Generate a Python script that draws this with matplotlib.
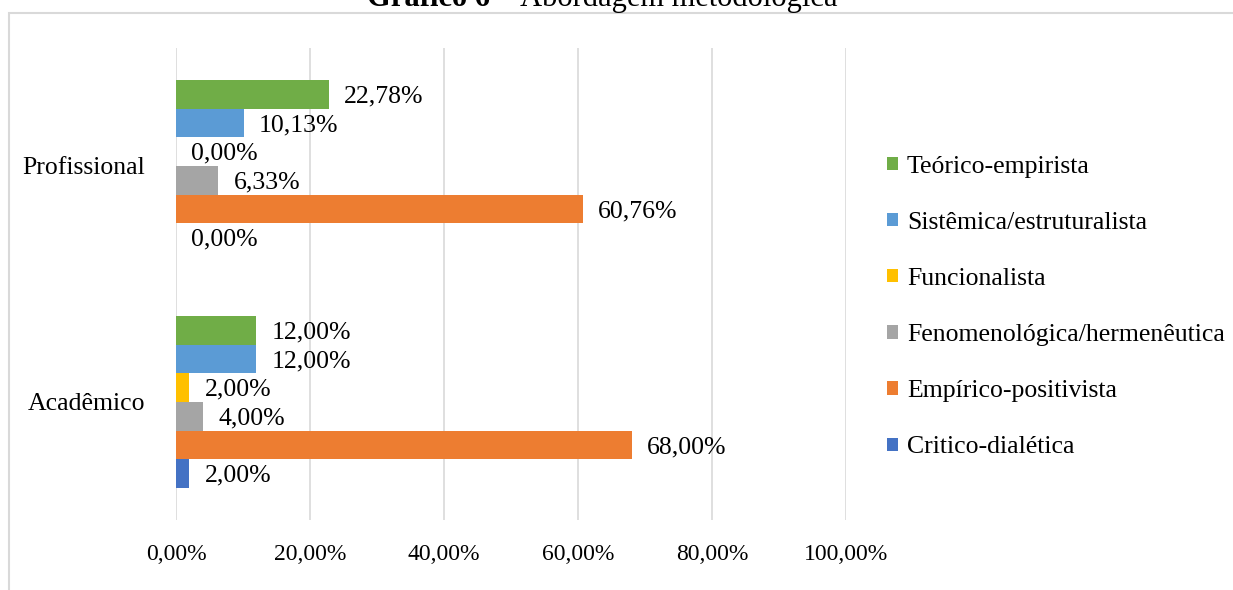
import matplotlib
matplotlib.use("Agg")
import matplotlib.pyplot as plt
from matplotlib.patches import Rectangle
import numpy as np

plt.rcParams['font.family'] = ['Liberation Serif', 'DejaVu Serif']

categories = ['Acadêmico', 'Profissional']
series = ['Critico-dialética', 'Empírico-positivista', 'Fenomenológica/hermenêutica',
          'Funcionalista', 'Sistêmica/estruturalista', 'Teórico-empirista']
colors = ['#4472C4', '#ED7D31', '#A5A5A5', '#FFC000', '#5B9BD5', '#70AD47']
academico = [2.00, 68.00, 4.00, 2.00, 12.00, 12.00]
profissional = [0.00, 60.76, 6.33, 0.00, 10.13, 22.78]
xticks = [0, 20, 40, 60, 80, 100]

W, H = 1233, 590
fig = plt.figure(figsize=(W / 100, H / 100), dpi=100)
ax = fig.add_axes([176 / W, 1 - 520 / H, (846 - 176) / W, (520 - 48) / H])

h = 0.1216
ypos = np.arange(len(categories))
values = np.array([academico, profissional])
handles = []
for i, name in enumerate(series):
    y = ypos + (i - 2.5) * h
    b = ax.barh(y, values[:, i], height=h, color=colors[i], label=name, zorder=2)
    handles.append(b)
    for yy, v in zip(y, values[:, i]):
        ax.annotate(f"{v:.2f}%".replace('.', ','), (v, yy), xytext=(11, -1.5),
                    textcoords='offset points', va='center', ha='left', fontsize=18.5)

ax.set_xlim(0, 100)
ax.set_ylim(-0.5, 1.5)
ax.set_xticks(xticks)
ax.set_xticklabels([f"{t:.2f}%".replace('.', ',') for t in xticks], fontsize=17)
ax.set_yticks(ypos)
ax.set_yticklabels(categories, fontsize=18.5)
ax.tick_params(axis='both', length=0)
ax.tick_params(axis='x', pad=17)
ax.tick_params(axis='y', pad=22)
ax.grid(axis='x', color='#d9d9d9', linewidth=1.2, zorder=0)
for s in ax.spines.values():
    s.set_visible(False)

fig.legend(handles[::-1], series[::-1], loc='center left',
           bbox_to_anchor=(887 / W, 1 - 307 / H), frameon=False, fontsize=18.5,
           borderpad=0, borderaxespad=0, handlelength=0.42, handleheight=0.42,
           handletextpad=0.35, labelspacing=1.33)

# title sits partly above the page edge, as in the source
fig.text(490 / W, 1 - 6 / H, 'Gráfico 6', ha='right', va='baseline',
         fontsize=22, fontweight='bold')
fig.text(499 / W, 1 - 6 / H, '– Abordagem metodológica', ha='left', va='baseline',
         fontsize=22)

fig.add_artist(Rectangle((9 / W, -0.1), 1.2, 1 - 13 / H + 0.1, transform=fig.transFigure,
                         fill=False, edgecolor='#d9d9d9', linewidth=1.5))

fig.savefig('out.png', dpi=100)
